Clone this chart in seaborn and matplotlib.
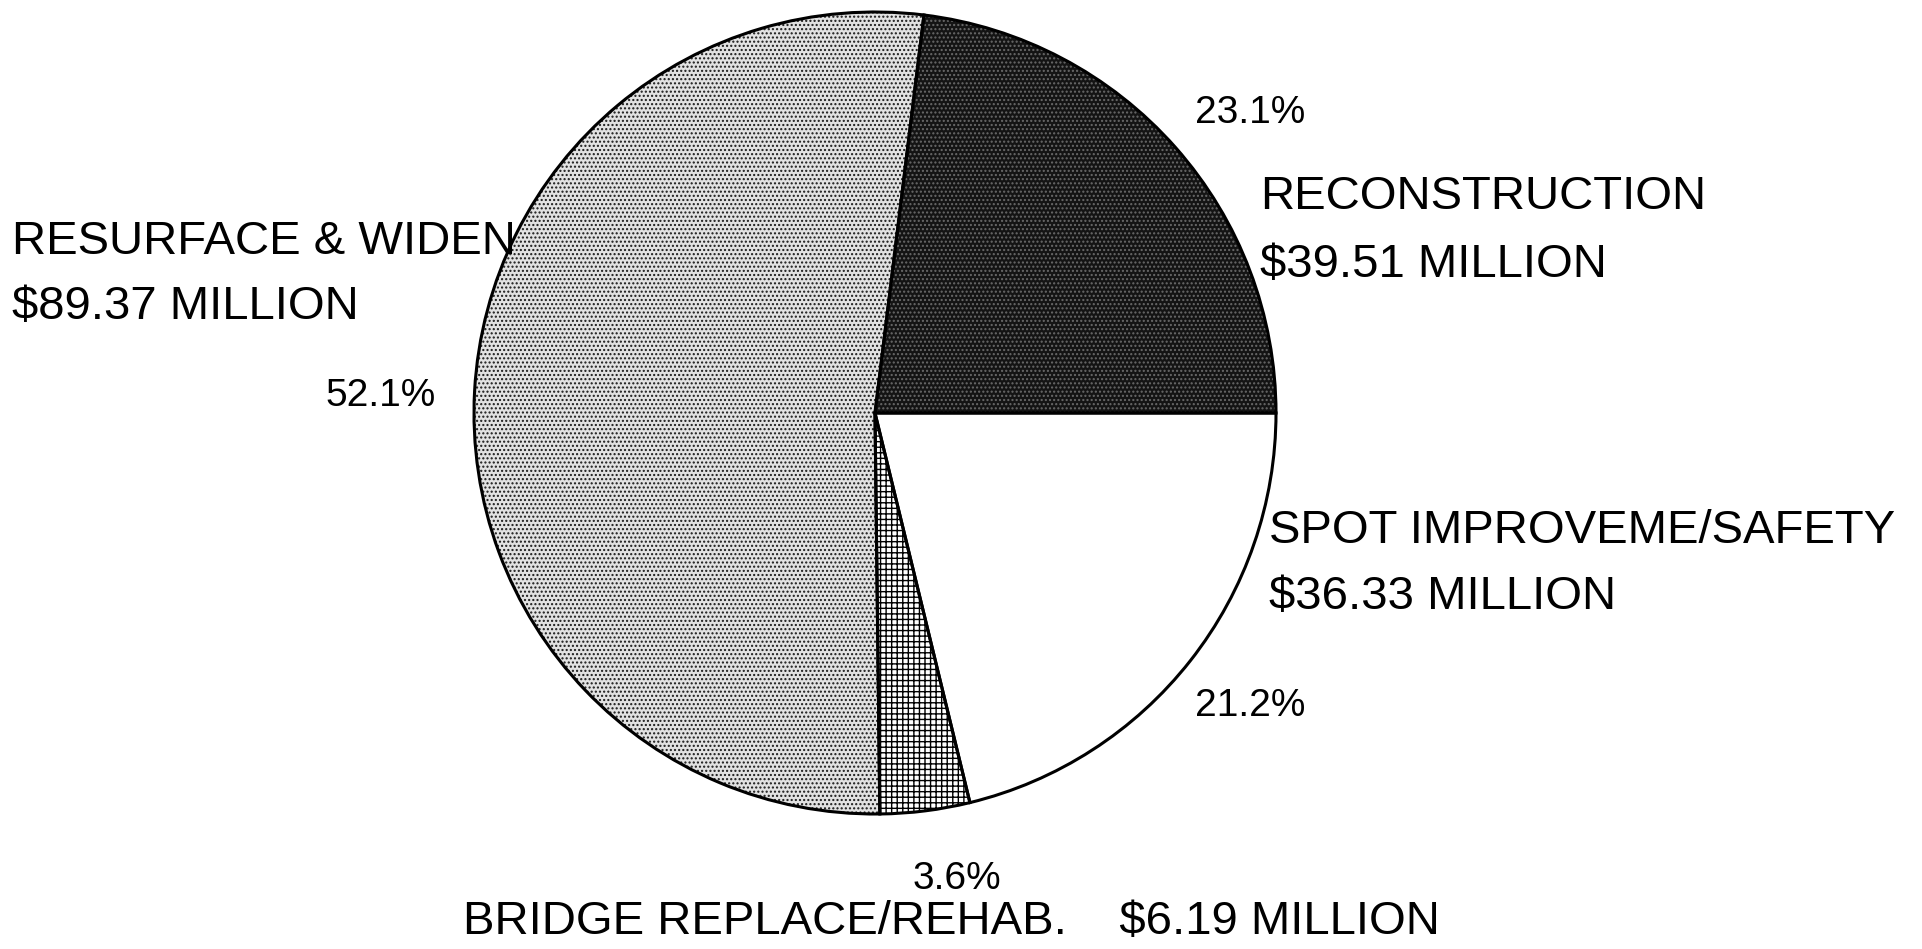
import matplotlib
matplotlib.use("Agg")
import matplotlib.pyplot as plt
import seaborn as sns

# Highway funding split, millions of dollars
categories = ["RECONSTRUCTION", "RESURFACE & WIDEN", "BRIDGE REPLACE/REHAB.", "SPOT IMPROVEME/SAFETY"]
amounts = [39.51, 89.37, 6.19, 36.33]
pct_labels = ["23.1%", "52.1%", "3.6%", "21.2%"]
amount_labels = ["$39.51 MILLION", "$89.37 MILLION", "$6.19 MILLION", "$36.33 MILLION"]

sns.set_style("white")
plt.rcParams["font.family"] = ["Liberation Sans", "DejaVu Sans"]
plt.rcParams["hatch.linewidth"] = 1.0

W, H = 1922, 949
fig = plt.figure(figsize=(W / 100, H / 100), dpi=100)
ax = fig.add_axes([0, 0, 1, 1])

center = (875, H - 413)
radius = 401

faces = ["#141414", "#e2e2e2", "#ffffff", "#ffffff"]
hatch_cols = ["#6a6a6a", "#1a1a1a", "#000000", "#ffffff"]
hatches = ["....", "....", "+++", ""]

wedges, _ = ax.pie(amounts, startangle=0, counterclock=True, center=center,
                   radius=radius, colors=faces, frame=True,
                   wedgeprops=dict(linewidth=0))
for w, hc, h in zip(wedges, hatch_cols, hatches):
    w.set_edgecolor(hc)
    w.set_hatch(h)

# outlines on top
ax.pie(amounts, startangle=0, counterclock=True, center=center, radius=radius,
       colors=["none"] * 4, frame=True,
       wedgeprops=dict(linewidth=2.2, edgecolor="black", fill=False))
ax.set_xlim(0, W)
ax.set_ylim(0, H)
ax.set_aspect("equal")
ax.axis("off")

big = 34
small = 28
def put(x, y, s, size, **kw):
    ax.text(x, H - y, s, fontsize=size, va="center", ha="left", color="black", **kw)

put(1195, 113, pct_labels[0], small)
put(1260, 197, categories[0], big)
put(1260, 265, amount_labels[0], big)

put(12, 242, categories[1], big)
put(12, 307, amount_labels[1], big)
put(325, 396, pct_labels[1], small)

put(1269, 531, categories[3], big)
put(1269, 597, amount_labels[3], big)
put(1195, 706, pct_labels[3], small)

narrow = ["Liberation Sans Narrow", "Liberation Sans", "DejaVu Sans"]
put(913, 879, pct_labels[2], small, family=narrow)
put(463, 922, categories[2] + "    " + amount_labels[2], big, family=narrow)

fig.savefig("out.png", dpi=100, facecolor="white")
